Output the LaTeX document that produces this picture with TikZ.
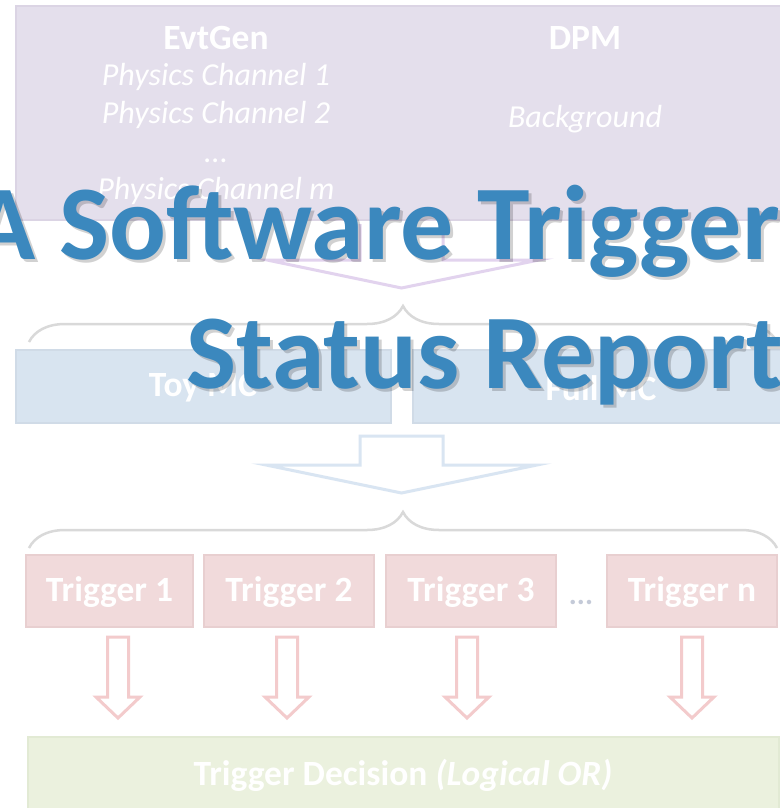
\documentclass[tikz,border=0pt]{standalone}
\usepackage{fontspec}
\setmainfont{Carlito}
\usetikzlibrary{decorations.pathreplacing}
\definecolor{pfill}{HTML}{E4DFEC}
\definecolor{pline}{HTML}{DBD4E4}
\definecolor{bfill}{HTML}{D8E4F0}
\definecolor{bline}{HTML}{D0DBE7}
\definecolor{rfill}{HTML}{F1DADB}
\definecolor{rline}{HTML}{E8CFD0}
\definecolor{gfill}{HTML}{EBF1DE}
\definecolor{gline}{HTML}{E2EAD4}
\definecolor{bracegray}{HTML}{D9D9D9}
\definecolor{parrow}{HTML}{E2D3EE}
\definecolor{barrow}{HTML}{D9E5F2}
\definecolor{rarrow}{HTML}{F3CBCC}
\definecolor{titleblue}{HTML}{3B88BE}
\definecolor{dotgray}{HTML}{C4CAD8}
\tikzset{
  boldtxt/.style={text=white, font=\fontsize{35.5}{38}\selectfont\bfseries, inner sep=0pt},
  ittxt/.style={text=white, font=\fontsize{32}{34}\selectfont\itshape, inner sep=0pt},
  brc/.style={draw=bracegray, line width=2.5pt, decorate, decoration={brace, amplitude=36pt}},
  blockarrow/.style={draw=#1, line width=3pt, line join=miter, fill=white},
  titletxt/.style={font=\fontsize{106}{110}\selectfont\bfseries, inner sep=0pt, anchor=base west},
}
\begin{document}
\begin{tikzpicture}[x=1pt, y=-1pt]
\useasboundingbox (0,0) rectangle (779,808);
\fill[white] (0,0) rectangle (779,808);

% top purple box
\fill[pfill, draw=pline, line width=2.5pt] (16,6) rectangle (792,220);
\node[boldtxt] (evt) at (216,38) {EvtGen};
\node[ittxt] (pc1) at (216,77) {Physics Channel 1};
\node[ittxt] (pc2) at (216,115) {Physics Channel 2};
\node[ittxt, anchor=base] (pdots) at (216,162) {...};
\node[ittxt] (pcm) at (216,191) {Physics Channel m};
\node[boldtxt] (dpm) at (585,38) {DPM};
\node[ittxt] (bkg) at (585,119) {Background};

% purple block arrow
\draw[blockarrow=parrow] (360,224) -- (360,260) -- (267,260) -- (401.5,288) -- (539,260) -- (443,260) -- (443,224);

% brace 1
\draw[brc] (29,342) -- (777,342);

% MC boxes
\fill[bfill, draw=bline, line width=2.5pt] (16,350) rectangle (391,423);
\node[boldtxt] (toy) at (203,388) {Toy MC};
\fill[bfill, draw=bline, line width=2.5pt] (413,350) rectangle (792,423);
\node[boldtxt] (full) at (601,388) {Full MC};

% blue block arrow
\draw[blockarrow=barrow] (360,436) -- (360,465) -- (266,465) -- (401.5,493) -- (537,465) -- (443,465) -- (443,436) -- cycle;

% brace 2
\draw[brc] (29,548) -- (777,548);

% trigger boxes
\foreach \n/\xa/\xb/\lab in {t1/26/193/Trigger 1, t2/204/374/Trigger 2, t3/386/556/Trigger 3, tn/607/777/Trigger n}{
  \fill[rfill, draw=rline, line width=2.5pt] (\xa,555) rectangle (\xb,627);
  \node[boldtxt] (\n) at ({(\xa+\xb)/2},592) {\lab};
}
\node[text=dotgray, font=\fontsize{30}{32}\selectfont\bfseries, inner sep=0pt, anchor=base] (tdots) at (581,604) {...};

% red block arrows
\foreach \c in {118,287,467,692}{
  \draw[blockarrow=rarrow] (\c-10.5,637) -- (\c-10.5,697) -- (\c-22,697) -- (\c,718) -- (\c+22,697) -- (\c+10.5,697) -- (\c+10.5,637) -- cycle;
}

% decision box
\fill[gfill, draw=gline, line width=2.5pt] (28,737) rectangle (779,812);
\node[boldtxt] (dec) at (403,775) {Trigger Decision \textit{(Logical OR)}};

% title with shadow
\node[titletxt, text=black, opacity=0.18] at (-26,262) {A Software Trigger};
\node[titletxt, text=black, opacity=0.18] at (189,391) {Status Report};
\node[titletxt, text=titleblue] (t1line) at (-29,259) {A Software Trigger};
\node[titletxt, text=titleblue] (t2line) at (186,388) {Status Report};
\end{tikzpicture}
\end{document}
